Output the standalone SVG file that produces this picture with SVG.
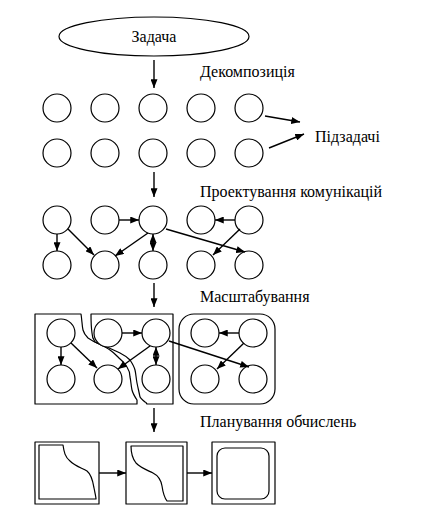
<svg xmlns="http://www.w3.org/2000/svg" width="429" height="521" viewBox="0 0 429 521">
<style>
.n{fill:#fff;stroke:#000;stroke-width:1.2}
.c{fill:none;stroke:#000;stroke-width:1.4}
.b{fill:none;stroke:#000;stroke-width:1.2;stroke-linejoin:round}
.t{font-family:"Liberation Serif","Times New Roman",serif;font-size:16px;fill:#000}
</style>
<defs>
<marker id="ah" viewBox="0 0 10 8" refX="10" refY="4" markerWidth="9" markerHeight="7" markerUnits="userSpaceOnUse" orient="auto-start-reverse">
<path d="M0,0 L10,4 L0,8 z" fill="#000"/>
</marker>
</defs>
<rect width="429" height="521" fill="#fff"/>

<g id="task">
<ellipse class="n" cx="154" cy="36.5" rx="95" ry="19.5"/>
<text class="t" x="154" y="42" text-anchor="middle">Задача</text>
</g>

<g id="labels">
<text class="t" x="200" y="77">Декомпозиція</text>
<text class="t" x="315" y="142">Підзадачі</text>
<text class="t" x="200" y="197">Проектування комунікацій</text>
<text class="t" x="200" y="302">Масштабування</text>
<text class="t" x="200" y="427">Планування обчислень</text>
</g>

<g id="decomposition">
<circle class="n" cx="57" cy="108" r="14"/>
<circle class="n" cx="105" cy="108" r="14"/>
<circle class="n" cx="153" cy="108" r="14"/>
<circle class="n" cx="201" cy="108" r="14"/>
<circle class="n" cx="249" cy="108" r="14"/>
<circle class="n" cx="57" cy="153" r="14"/>
<circle class="n" cx="105" cy="153" r="14"/>
<circle class="n" cx="153" cy="153" r="14"/>
<circle class="n" cx="201" cy="153" r="14"/>
<circle class="n" cx="249" cy="153" r="14"/>
</g>

<g id="communication">
<circle class="n" cx="57" cy="220" r="14"/>
<circle class="n" cx="105" cy="220" r="14"/>
<circle class="n" cx="153" cy="220" r="14"/>
<circle class="n" cx="201" cy="220" r="14"/>
<circle class="n" cx="249" cy="220" r="14"/>
<circle class="n" cx="57" cy="265" r="14"/>
<circle class="n" cx="105" cy="265" r="14"/>
<circle class="n" cx="153" cy="265" r="14"/>
<circle class="n" cx="201" cy="265" r="14"/>
<circle class="n" cx="249" cy="265" r="14"/>
</g>

<g id="agglomeration">
<path class="b" d="M35,314 L81,314 C82,320 82,326 83,330 C84,334 86,336 88,338 C91,340 94,342 97,343 C101,345 106,347 110,350 C113,352 116,355 118,357 C121,360 125,363 127,367 C129,370 130,374 130,377 C131,381 131,386 132,390 C133,394 135,397 137,400 C137,402 137,403 137,404 L35,404 Z"/>
<path class="b" d="M91,314 L173,314 L173,404 L147,404 C146,403 146,402 145,402 C143,400 141,399 140,397 C139,392 138,388 137,383 C136,378 136,374 135,370 C134,366 132,363 130,360 C127,357 124,355 120,353 C116,351 111,349 107,347 C102,345 98,344 95,342 C93,339 92,336 92,333 C91,326 91,320 91,314 Z"/>
<rect class="b" x="179" y="314" width="96" height="90" rx="15" ry="15"/>
<circle class="n" cx="61" cy="333" r="14"/>
<circle class="n" cx="108" cy="333" r="14"/>
<circle class="n" cx="156" cy="333" r="14"/>
<circle class="n" cx="205" cy="333" r="14"/>
<circle class="n" cx="253" cy="333" r="14"/>
<circle class="n" cx="61" cy="379" r="14"/>
<circle class="n" cx="108" cy="379" r="14"/>
<circle class="n" cx="156" cy="379" r="14"/>
<circle class="n" cx="205" cy="379" r="14"/>
<circle class="n" cx="253" cy="379" r="14"/>
</g>

<g id="mapping">
<rect class="b" x="35" y="442" width="64" height="62"/>
<path class="b" d="M39,445 L63,445 C64,452 65,457 70,461 C75,466 82,468 87,471 C92,475 93,482 94,488 C95,493 96,497 96,499 L39,499 Z"/>
<rect class="b" x="126" y="442" width="61" height="62"/>
<path class="b" d="M131,446 L183,446 L183,501 L167,501 C164,497 163,493 162,486 C161,480 159,476 153,473 C147,470 141,468 136,463 C132,458 131,453 131,446 Z"/>
<rect class="b" x="212" y="442" width="63" height="62"/>
<rect class="b" x="217" y="448" width="52" height="51" rx="8" ry="8"/>
</g>

<g id="connectors">
<line class="c" x1="154" y1="60" x2="154" y2="88" marker-end="url(#ah)"/>
<line class="c" x1="265" y1="116" x2="300" y2="122" marker-end="url(#ah)"/>
<line class="c" x1="269" y1="148" x2="304" y2="134" marker-end="url(#ah)"/>
<line class="c" x1="154" y1="172" x2="154" y2="197" marker-end="url(#ah)"/>

<line class="c" x1="57" y1="234" x2="57" y2="251" marker-end="url(#ah)"/>
<line class="c" x1="68" y1="229" x2="94" y2="255" marker-end="url(#ah)"/>
<line class="c" x1="119" y1="220" x2="139" y2="220" marker-end="url(#ah)"/>
<line class="c" x1="148" y1="233" x2="115" y2="256" marker-end="url(#ah)"/>
<line class="c" x1="153" y1="234" x2="153" y2="251" marker-start="url(#ah)" marker-end="url(#ah)"/>
<line class="c" x1="166" y1="229" x2="245" y2="252" marker-end="url(#ah)"/>
<line class="c" x1="235" y1="220" x2="215" y2="220" marker-end="url(#ah)"/>
<line class="c" x1="240" y1="229" x2="213" y2="255" marker-end="url(#ah)"/>

<line class="c" x1="154" y1="283" x2="154" y2="307" marker-end="url(#ah)"/>

<line class="c" x1="61" y1="347" x2="61" y2="365" marker-end="url(#ah)"/>
<line class="c" x1="71" y1="343" x2="97" y2="368" marker-end="url(#ah)"/>
<line class="c" x1="122" y1="333" x2="142" y2="333" marker-end="url(#ah)"/>
<line class="c" x1="150" y1="346" x2="118" y2="369" marker-end="url(#ah)"/>
<line class="c" x1="156" y1="347" x2="156" y2="365" marker-start="url(#ah)" marker-end="url(#ah)"/>
<line class="c" x1="169" y1="341" x2="249" y2="367" marker-end="url(#ah)"/>
<line class="c" x1="239" y1="333" x2="219" y2="333" marker-end="url(#ah)"/>
<line class="c" x1="244" y1="343" x2="217" y2="369" marker-end="url(#ah)"/>

<line class="c" x1="154" y1="408" x2="154" y2="432" marker-end="url(#ah)"/>
<line class="c" x1="99" y1="473" x2="126" y2="473" marker-end="url(#ah)"/>
<line class="c" x1="187" y1="473" x2="212" y2="473" marker-end="url(#ah)"/>
</g>
</svg>
